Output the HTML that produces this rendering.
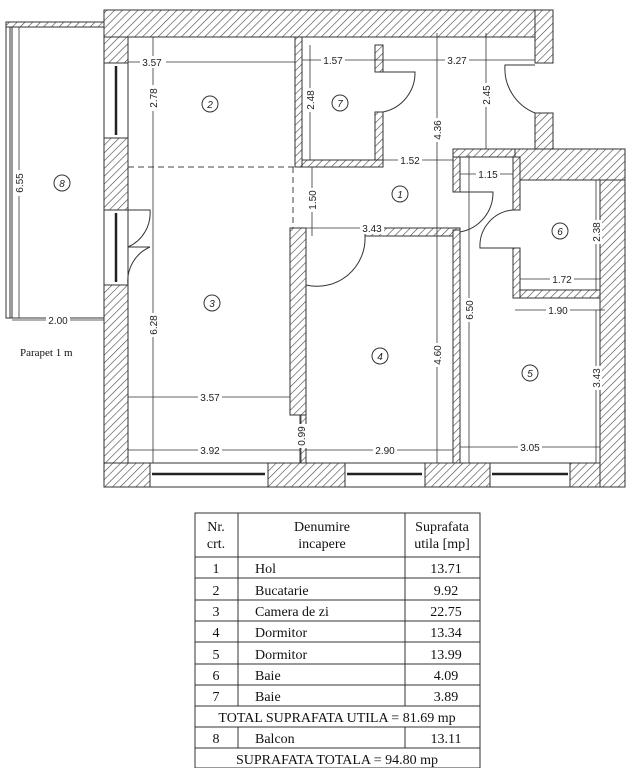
<!DOCTYPE html>
<html><head><meta charset="utf-8"><style>
html,body{margin:0;padding:0;background:#fff;}
svg{display:block;}
text{font-family:"Liberation Sans",sans-serif;font-size:10px;fill:#222;}
.t{font-family:"Liberation Serif",serif;font-size:14px;fill:#111;}
</style></head><body>
<svg width="633" height="768" viewBox="0 0 633 768" xmlns="http://www.w3.org/2000/svg">
<defs>
<pattern id="h" patternUnits="userSpaceOnUse" width="5.5" height="5.5" patternTransform="rotate(45)">
<rect width="6" height="6" fill="#fff"/><line x1="0" y1="0" x2="0" y2="6" stroke="#444" stroke-width="1.2"/>
</pattern>
</defs>
<g fill="url(#h)" stroke="#333" stroke-width="1">
<rect x="104" y="10" width="449" height="27"/>
<rect x="535" y="10" width="18" height="53"/>
<rect x="535" y="113" width="18" height="40"/>
<rect x="104" y="37" width="24" height="26"/>
<rect x="104" y="138" width="24" height="72"/>
<rect x="104" y="285" width="24" height="202"/>
<rect x="104" y="463" width="521" height="24"/>
<rect x="515" y="149" width="110" height="31"/>
<rect x="600" y="180" width="25" height="307"/>
<rect x="453" y="149" width="62" height="8"/>
<rect x="453" y="157" width="7" height="35"/>
<rect x="513" y="157" width="7" height="53"/>
<rect x="513" y="248" width="7" height="50"/>
<rect x="520" y="290" width="80" height="8"/>
<rect x="295" y="37" width="7" height="130"/>
<rect x="302" y="160" width="81" height="7"/>
<rect x="375" y="112" width="8" height="48"/>
<rect x="375" y="45" width="8" height="27"/>
<rect x="365" y="228" width="95" height="8"/>
<rect x="453" y="230" width="7" height="233"/>
<rect x="290" y="228" width="16" height="187"/>
<rect x="300" y="415" width="6" height="48"/>
<rect x="6" y="22" width="98" height="5"/>
</g>
<g fill="#fff" stroke="#333" stroke-width="1">
<rect x="150" y="463" width="118" height="24"/>
<rect x="345" y="463" width="80" height="24"/>
<rect x="490" y="463" width="80" height="24"/>
<rect x="104" y="63" width="24" height="75"/>
<rect x="104" y="210" width="24" height="75"/>
</g>
<g stroke="#222" stroke-width="2.5">
<line x1="152" y1="474" x2="265" y2="474"/><line x1="347" y1="474" x2="422" y2="474"/><line x1="492" y1="474" x2="568" y2="474"/>
<line x1="116" y1="66" x2="116" y2="135"/><line x1="116" y1="213" x2="116" y2="282"/>
</g>
<g stroke="#333" fill="none" stroke-width="1">
<rect x="6" y="22" width="98" height="296"/>
<line x1="10" y1="27" x2="10" y2="318"/><line x1="12" y1="27" x2="12" y2="318"/>
<line x1="6" y1="318" x2="104" y2="318"/>
</g>
<g stroke="#444" stroke-dasharray="6,4" fill="none">
<line x1="128" y1="167" x2="295" y2="167"/><line x1="293" y1="167" x2="293" y2="228"/>
</g>
<g stroke="#333" fill="none" stroke-width="1">
<path d="M383 72 L415 72 A40 40 0 0 1 383 112"/>
<path d="M535 65 L505 65 A48 48 0 0 0 535 113"/>
<path d="M460 192 L493 192 A40 40 0 0 1 460 232"/>
<path d="M513 248 L480 248 A36 36 0 0 1 513 210"/>
<path d="M306 236 L306 285 A48 48 0 0 0 365 236"/>
<path d="M128 210 L150 210 A37 37 0 0 1 128 247 M128 247 L150 247 A37 37 0 0 0 128 285"/>
</g>
<g stroke="#333" stroke-width="0.8">
<line x1="128" y1="62" x2="295" y2="62"/><line x1="153" y1="37" x2="153" y2="463"/>
<line x1="19" y1="27" x2="19" y2="318"/><line x1="12" y1="320" x2="104" y2="320"/>
<line x1="302" y1="60" x2="535" y2="60"/><line x1="310" y1="45" x2="310" y2="160"/>
<line x1="486" y1="33" x2="486" y2="149"/><line x1="437" y1="33" x2="437" y2="236"/>
<line x1="383" y1="160" x2="453" y2="160"/><line x1="460" y1="174" x2="513" y2="174"/>
<line x1="312" y1="167" x2="312" y2="236"/><line x1="290" y1="228" x2="455" y2="228"/>
<line x1="596" y1="180" x2="596" y2="290"/><line x1="520" y1="279" x2="600" y2="279"/>
<line x1="515" y1="310" x2="605" y2="310"/><line x1="469" y1="155" x2="469" y2="463"/>
<line x1="437" y1="236" x2="437" y2="463"/><line x1="596" y1="310" x2="596" y2="463"/>
<line x1="128" y1="397" x2="290" y2="397"/><line x1="301" y1="415" x2="301" y2="463"/>
<line x1="128" y1="450" x2="300" y2="450"/><line x1="306" y1="450" x2="453" y2="450"/><line x1="460" y1="447" x2="600" y2="447"/>
</g>
<g text-anchor="middle">
<g fill="#fff">
<rect x="140" y="56" width="26" height="12"/><rect x="147" y="85" width="12" height="26" /><rect x="13" y="170" width="12" height="26"/>
<rect x="46" y="314" width="24" height="12"/><rect x="321" y="54" width="24" height="12"/><rect x="445" y="54" width="24" height="12"/>
<rect x="304" y="88" width="12" height="24"/><rect x="480" y="83" width="12" height="24"/><rect x="431" y="118" width="12" height="24"/>
<rect x="398" y="154" width="24" height="12"/><rect x="476" y="168" width="24" height="12"/><rect x="306" y="188" width="12" height="24"/>
<rect x="360" y="222" width="24" height="12"/><rect x="590" y="220" width="12" height="24"/><rect x="550" y="273" width="24" height="12"/>
<rect x="546" y="304" width="24" height="12"/><rect x="463" y="298" width="12" height="24"/><rect x="147" y="313" width="12" height="24"/>
<rect x="431" y="343" width="12" height="24"/><rect x="590" y="366" width="12" height="24"/><rect x="198" y="391" width="24" height="12"/>
<rect x="296" y="424" width="11" height="24"/><rect x="198" y="444" width="24" height="12"/><rect x="373" y="444" width="24" height="12"/><rect x="518" y="441" width="24" height="12"/>
</g>
<text x="152" y="66">3.57</text>
<text transform="translate(157,98) rotate(-90)">2.78</text>
<text transform="translate(23,183) rotate(-90)">6.55</text>
<text x="58" y="324">2.00</text>
<text x="333" y="64">1.57</text><text x="457" y="64">3.27</text>
<text transform="translate(314,100) rotate(-90)">2.48</text>
<text transform="translate(490,95) rotate(-90)">2.45</text>
<text transform="translate(441,130) rotate(-90)">4.36</text>
<text x="410" y="164">1.52</text><text x="488" y="178">1.15</text>
<text transform="translate(316,200) rotate(-90)">1.50</text>
<text x="372" y="232">3.43</text>
<text transform="translate(600,232) rotate(-90)">2.38</text>
<text x="562" y="283">1.72</text><text x="558" y="314">1.90</text>
<text transform="translate(473,310) rotate(-90)">6.50</text>
<text transform="translate(157,325) rotate(-90)">6.28</text>
<text transform="translate(441,355) rotate(-90)">4.60</text>
<text transform="translate(600,378) rotate(-90)">3.43</text>
<text x="210" y="401">3.57</text>
<text transform="translate(305,436) rotate(-90)">0.99</text>
<text x="210" y="454">3.92</text><text x="385" y="454">2.90</text><text x="530" y="451">3.05</text>
</g>
<g fill="none" stroke="#333"><circle cx="210" cy="104" r="8"/><circle cx="62" cy="183" r="8"/><circle cx="340" cy="103" r="8"/><circle cx="400" cy="194" r="8"/><circle cx="560" cy="231" r="8"/><circle cx="212" cy="303" r="8"/><circle cx="380" cy="356" r="8"/><circle cx="530" cy="373" r="8"/></g>
<g text-anchor="middle" font-style="italic"><text x="210" y="108">2</text><text x="62" y="187">8</text><text x="340" y="107">7</text><text x="400" y="198">1</text><text x="560" y="235">6</text><text x="212" y="307">3</text><text x="380" y="360">4</text><text x="530" y="377">5</text></g>
<text x="20" y="356" class="t" style="font-size:11px">Parapet 1 m</text>
<g stroke="#333" stroke-width="1" fill="none">
<rect x="195" y="513" width="285" height="255"/>
<line x1="238" y1="513" x2="238" y2="706"/><line x1="405" y1="513" x2="405" y2="706"/>
<line x1="238" y1="727" x2="238" y2="748"/><line x1="405" y1="727" x2="405" y2="748"/>
<line x1="195" y1="557" x2="480" y2="557"/><line x1="195" y1="578" x2="480" y2="578"/><line x1="195" y1="600" x2="480" y2="600"/>
<line x1="195" y1="621" x2="480" y2="621"/><line x1="195" y1="642" x2="480" y2="642"/><line x1="195" y1="664" x2="480" y2="664"/>
<line x1="195" y1="685" x2="480" y2="685"/><line x1="195" y1="706" x2="480" y2="706"/><line x1="195" y1="727" x2="480" y2="727"/><line x1="195" y1="748" x2="480" y2="748"/>
</g>
<g text-anchor="middle">
<text class="t" x="216" y="531">Nr.</text><text class="t" x="216" y="548">crt.</text>
<text class="t" x="322" y="531">Denumire</text><text class="t" x="322" y="548">incapere</text>
<text class="t" x="442" y="531">Suprafata</text><text class="t" x="442" y="548">utila [mp]</text>
<text class="t" x="216" y="573">1</text><text class="t" x="216" y="595">2</text><text class="t" x="216" y="616">3</text><text class="t" x="216" y="637">4</text><text class="t" x="216" y="659">5</text><text class="t" x="216" y="680">6</text><text class="t" x="216" y="701">7</text><text class="t" x="216" y="743">8</text>
<text class="t" x="446" y="573">13.71</text><text class="t" x="446" y="595">9.92</text><text class="t" x="446" y="616">22.75</text><text class="t" x="446" y="637">13.34</text><text class="t" x="446" y="659">13.99</text><text class="t" x="446" y="680">4.09</text><text class="t" x="446" y="701">3.89</text><text class="t" x="446" y="743">13.11</text>
<text class="t" x="337" y="722">TOTAL SUPRAFATA UTILA = 81.69 mp</text>
<text class="t" x="337" y="764">SUPRAFATA TOTALA = 94.80 mp</text>
</g>
<g>
<text class="t" x="255" y="573">Hol</text><text class="t" x="255" y="595">Bucatarie</text><text class="t" x="255" y="616">Camera de zi</text><text class="t" x="255" y="637">Dormitor</text><text class="t" x="255" y="659">Dormitor</text><text class="t" x="255" y="680">Baie</text><text class="t" x="255" y="701">Baie</text><text class="t" x="255" y="743">Balcon</text>
</g>
</svg>
</body></html>
